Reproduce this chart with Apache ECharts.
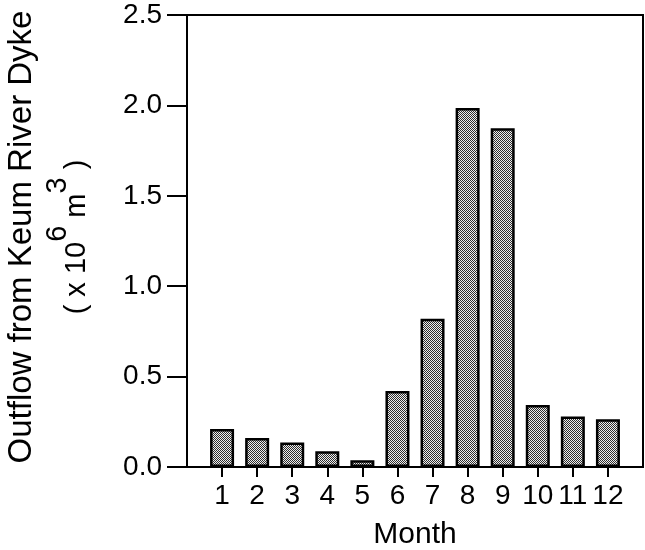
<!DOCTYPE html>
<html>
<head>
<meta charset="utf-8">
<script src="https://cdn.jsdelivr.net/npm/echarts@6/dist/echarts.min.js"></script>
<style>
html,body{margin:0;padding:0;background:#fff;}
#chart{width:645px;height:550px;}
</style>
</head>
<body>
<div id="chart"></div>
<script>
var months = [1, 2, 3, 4, 5, 6, 7, 8, 9, 10, 11, 12];
var outflow = [0.21, 0.16, 0.135, 0.087, 0.037, 0.42, 0.82, 1.985, 1.873, 0.343, 0.28, 0.264];
var yTicks = [0, 0.5, 1.0, 1.5, 2.0, 2.5];

var FONT = '"Liberation Sans", Arial, Helvetica, sans-serif';

// crosshatch fill pattern
var pc = document.createElement('canvas');
pc.width = 4; pc.height = 4;
var pctx = pc.getContext('2d');
for (var py = 0; py < 4; py++) {
  for (var px = 0; px < 4; px++) {
    pctx.fillStyle = ((px + py) % 2 === 0) ? '#2e2e2e' : '#eeeeee';
    pctx.fillRect(px, py, 1, 1);
  }
}

var barData = months.map(function (m, i) { return [m, outflow[i]]; });

var chart = echarts.init(document.getElementById('chart'), null, {renderer: 'canvas'});
chart.setOption({
  animation: false,
  backgroundColor: '#fff',
  grid: {
    left: 187, right: 2, top: 15, bottom: 83,
    containLabel: false,
    outerBoundsMode: 'none',
    show: true, borderColor: '#000', borderWidth: 2, backgroundColor: 'transparent'
  },
  xAxis: {
    type: 'value',
    min: 0, max: 13, interval: 1,
    name: 'Month',
    nameLocation: 'middle',
    nameGap: 53,
    nameTextStyle: {fontFamily: FONT, fontSize: 30, color: '#000'},
    axisLine: {show: true, onZero: false, lineStyle: {color: '#000', width: 2}},
    axisTick: {show: true, inside: false, length: 10, lineStyle: {color: '#000', width: 2}, customValues: months},
    axisLabel: {show: true, margin: 15, fontFamily: FONT, fontSize: 28, color: '#000', customValues: months,
      formatter: function (v) { return String(v); }},
    splitLine: {show: false}
  },
  yAxis: {
    type: 'value',
    min: 0, max: 2.5, interval: 0.5,
    name: '{a|Outflow from Keum River Dyke}\n{b|(}{h| }{b|x 10}{s|6}{b| m}{s|3}{b| )}',
    nameLocation: 'middle',
    nameRotate: 90,
    nameGap: 96,
    nameTextStyle: {
      fontFamily: FONT, color: '#000', align: 'center',
      padding: [0, 0, 0, 8],
      rich: {
        a: {fontFamily: FONT, fontSize: 33, lineHeight: 42, color: '#000'},
        b: {fontFamily: FONT, fontSize: 29, lineHeight: 28, verticalAlign: 'bottom', color: '#000'},
        s: {fontFamily: FONT, fontSize: 29, lineHeight: 28, verticalAlign: 'top', color: '#000'},
        h: {fontFamily: FONT, fontSize: 29, lineHeight: 48, color: '#000'}
      }
    },
    axisLine: {show: true, lineStyle: {color: '#000', width: 2}},
    axisTick: {show: true, inside: false, length: 20, lineStyle: {color: '#000', width: 2}},
    axisLabel: {show: true, margin: 25, fontFamily: FONT, fontSize: 28, color: '#000',
      formatter: function (v) { return v.toFixed(1); }},
    splitLine: {show: false}
  },
  series: [{
    type: 'bar',
    data: barData,
    barWidth: 24,
    itemStyle: {
      color: {image: pc, repeat: 'repeat'},
      borderColor: '#000',
      borderWidth: 2.5
    }
  }]
});
</script>
</body>
</html>
